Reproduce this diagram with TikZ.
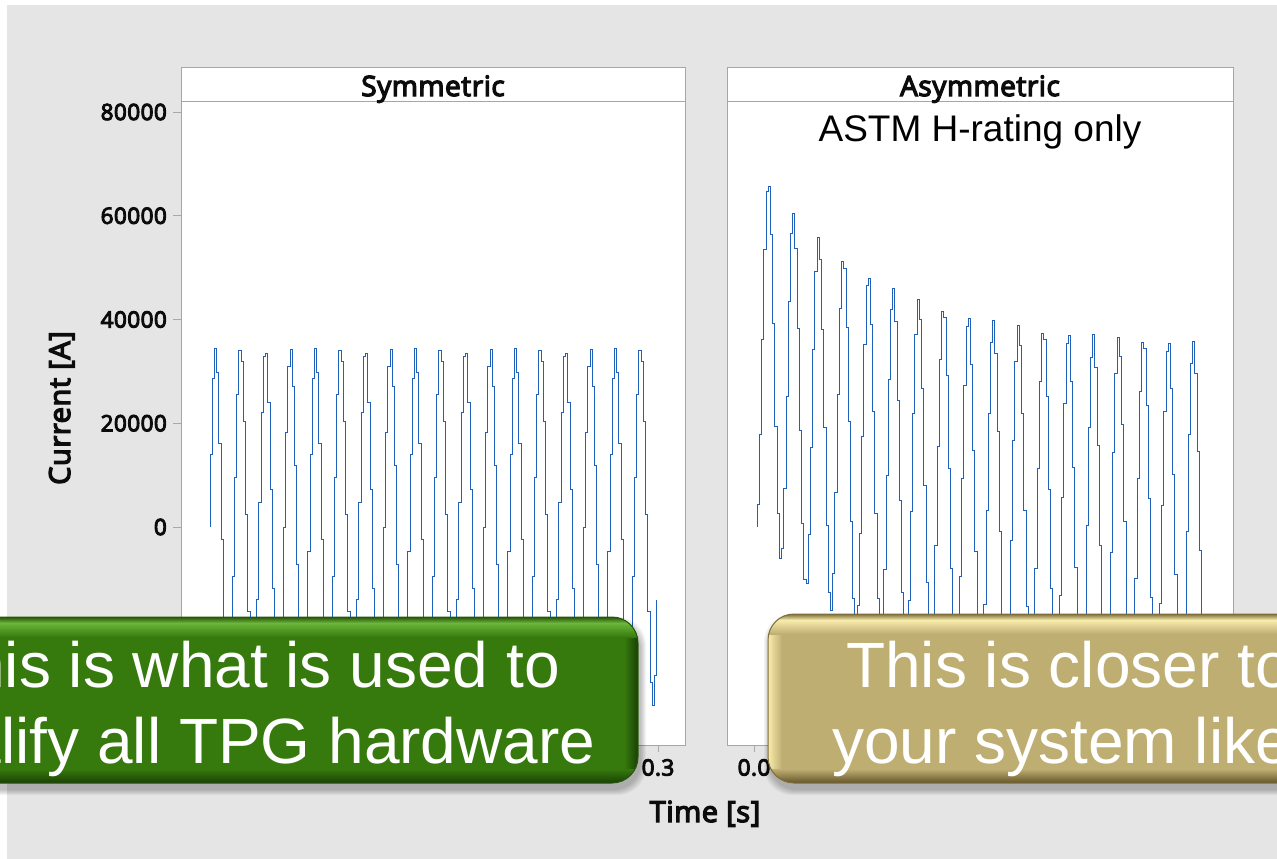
\documentclass[tikz,border=0pt]{standalone}
\usepackage{fontspec}
\setmainfont{Liberation Sans}
\newfontfamily\plotfont{Open Sans}[FakeBold=4.5,LetterSpace=2]

\definecolor{pagebg}{RGB}{229,229,229}
\definecolor{frame}{RGB}{166,166,166}
\definecolor{tickgray}{RGB}{170,170,170}
\definecolor{trace}{RGB}{30,96,186}
\definecolor{ink}{RGB}{12,12,12}
\definecolor{grnMain}{RGB}{54,122,14}
\definecolor{grnHi}{RGB}{108,182,58}
\definecolor{grnDark}{RGB}{26,64,6}
\definecolor{grnRim}{RGB}{38,86,10}
\definecolor{gldMain}{RGB}{191,174,114}
\definecolor{gldHi}{RGB}{248,236,172}
\definecolor{gldDark}{RGB}{100,86,44}
\definecolor{gldRim}{RGB}{125,110,58}

% current (kA) -> vertical pixel position
\pgfmathdeclarefunction{ypos}{1}{\pgfmathparse{527-5.1875*(#1)}}
% symmetric fault current, phase in degrees
\pgfmathdeclarefunction{symI}{1}{\pgfmathparse{34.5*sin(#1)}}
% fully offset fault current with decaying DC component
\pgfmathdeclarefunction{asymI}{1}{\pgfmathparse{35*(exp(-(#1)/1728)-cos(#1))}}

% beveled rounded call-out box: x1,y1,x2,y2, main, highlight, dark, rim
\newcommand\bevelbox[8]{%
  \foreach \k in {1,...,6}{
    \fill[black,opacity=0.045,rounded corners=28pt]
      (#1-\k+2,#2-\k+6) rectangle (#3+\k+2,#4+\k+6);
  }
  \begin{scope}
    \clip[rounded corners=26pt] (#1,#2) rectangle (#3,#4);
    \fill[#5] (#1,#2) rectangle (#3,#4);
    \shade[left color=#6,right color=#5] (#1,#2) rectangle (#1+14,#4);
    \shade[left color=#5,right color=#7] (#3-14,#2) rectangle (#3,#4);
    \shade[top color=#8,bottom color=#6] (#1,#2) rectangle (#3,#2+6);
    \shade[top color=#6,bottom color=#5] (#1,#2+6) rectangle (#3,#2+20);
    \shade[top color=#5,bottom color=#7] (#1,#4-14) rectangle (#3,#4);
  \end{scope}
  \draw[#8,line width=1pt,rounded corners=26pt] (#1,#2) rectangle (#3,#4);
}

\begin{document}
\begin{tikzpicture}[x=1pt,y=-1pt,
  panelframe/.style={draw=frame,line width=1pt,fill=white},
  tickmark/.style={draw=tickgray,line width=1pt},
  wave/.style={draw=trace,line width=0.9pt},
  hdr/.style={font=\plotfont\fontsize{28}{28}\selectfont,text=ink,anchor=base,inner sep=0pt},
  ticklbl/.style={font=\plotfont\fontsize{22.5}{22.5}\selectfont,text=ink,inner sep=0pt},
  axtitle/.style={font=\plotfont\fontsize{29}{29}\selectfont,text=ink,anchor=base,inner sep=0pt},
  note/.style={font=\fontsize{37}{37}\selectfont,text=black,anchor=base,inner sep=0pt},
  msg/.style={font=\fontsize{64}{64}\selectfont,text=white,inner sep=0pt},
]
\useasboundingbox (0,0) rectangle (1277,859);
\clip (0,0) rectangle (1277,859);
\fill[white] (0,0) rectangle (1277,859);
\fill[pagebg] (7,5) rectangle (1277,859);

% panels
\draw[panelframe] (181,68) rectangle (685,745);
\draw[frame,line width=1pt] (181,101) -- (685,101);
\draw[panelframe] (727,68) rectangle (1233,745);
\draw[frame,line width=1pt] (727,101) -- (1233,101);
\node[hdr] (hsym) at (433,96) {Symmetric};
\node[hdr] (hasym) at (980,96) {Asymmetric};
\node[note] (astm) at (980,141) {ASTM H-rating only};

% symmetric trace (sample-and-hold)
\draw[wave] (210,527) -- (210,{ypos(symI(24))})
  \foreach \i in {1,...,201}{
    -- ({208.333+(24+32*\i)/14.4},{ypos(symI(24+32*(\i-1)))})
    -- ({208.333+(24+32*\i)/14.4},{ypos(symI(24+32*\i))})
  };

% asymmetric trace (sample-and-hold)
\draw[wave] (757.15,527) -- (757.15,{ypos(asymI(31))})
  \foreach \i in {1,...,201}{
    -- ({755+(31+32*\i)/14.4},{ypos(asymI(31+32*(\i-1)))})
    -- ({755+(31+32*\i)/14.4},{ypos(asymI(31+32*\i))})
  };

% y axis
\foreach \v/\lbl in {80/80000,60/60000,40/40000,20/20000,0/0}{
  \draw[tickmark] (173,{ypos(\v)}) -- (181,{ypos(\v)});
  \node[ticklbl,anchor=east] (yt\v) at (167,{ypos(\v)}) {\lbl};
}
\node[axtitle,rotate=90] (ylab) at (70,408) {Current [A]};

% x axis
\draw[tickmark] (658,745) -- (658,752);
\draw[tickmark] (754,745) -- (754,752);
\node[ticklbl,anchor=north] (xtsym) at (658,759) {0.3};
\node[ticklbl,anchor=north] (xtasym) at (754,759) {0.0};
\node[axtitle] (xlab) at (705,822) {Time [s]};

% call-outs
\bevelbox{-40}{617}{638}{783}{grnMain}{grnHi}{grnDark}{grnRim}
\node[msg,anchor=base] (gline1) at (245,687) {This is what is used to};
\node[msg,anchor=base] (gline2) at (245,763) {qualify all TPG hardware};

\bevelbox{768}{614}{1320}{783}{gldMain}{gldHi}{gldDark}{gldRim}
\node[msg,anchor=base west] (yline1) at (846,687) {This is closer to};
\node[msg,anchor=base west] (yline2) at (832,763) {your system like};
\end{tikzpicture}
\end{document}
